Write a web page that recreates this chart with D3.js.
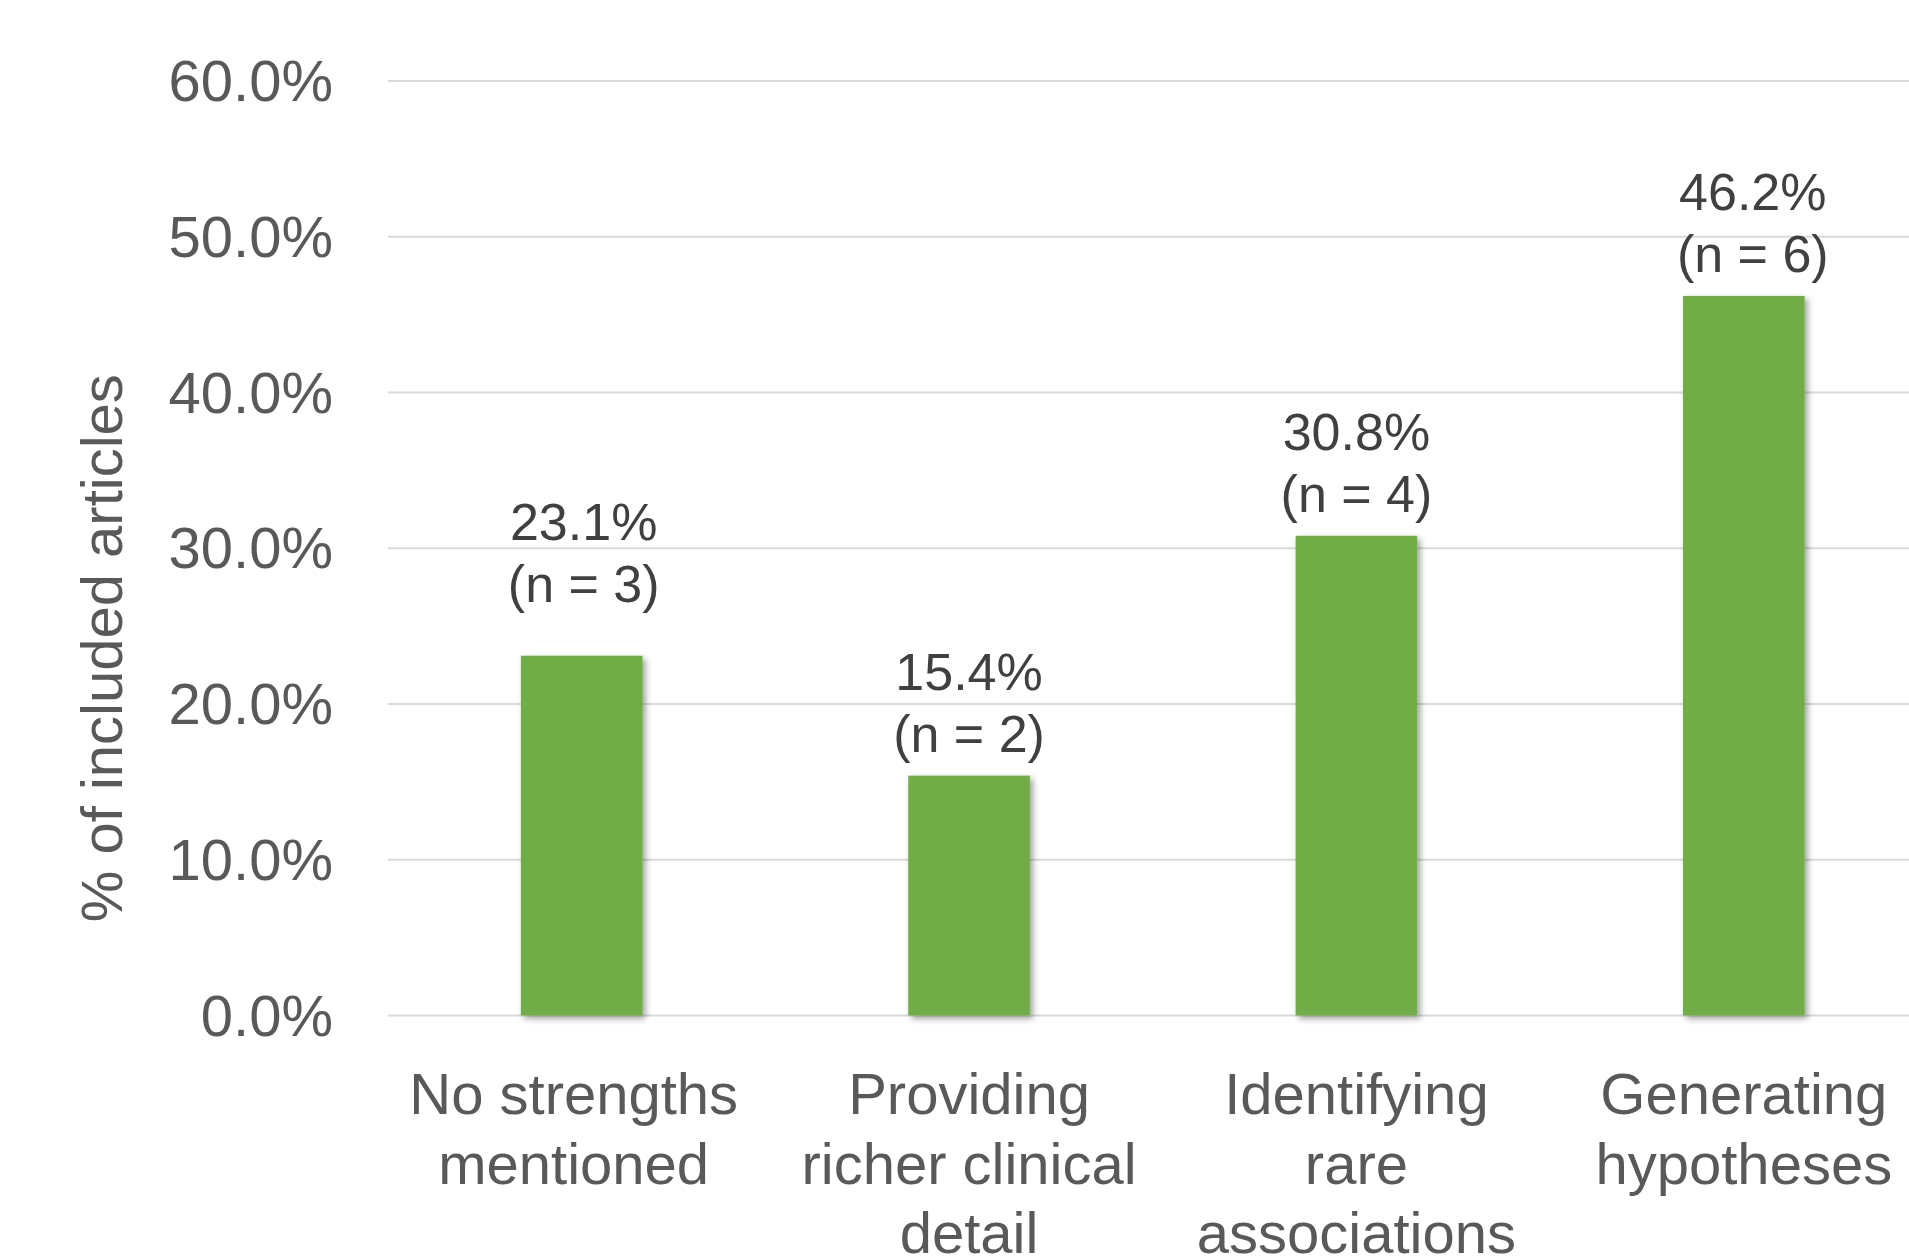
<!DOCTYPE html>
<html>
<head>
<meta charset="utf-8">
<script src="https://cdn.jsdelivr.net/npm/d3@7"></script>
<style>
  html, body { margin: 0; padding: 0; background: #ffffff; }
  svg { display: block; }
  text { font-family: "Liberation Sans", Arial, sans-serif; }
</style>
</head>
<body>
<svg id="chart" width="1909" height="1256"></svg>
<script>
// Reported strengths of the included articles
const categories = [
  "No strengths mentioned",
  "Providing richer clinical detail",
  "Identifying rare associations",
  "Generating hypotheses"
];
const percentValues = [23.1, 15.4, 30.8, 46.2];
const articleCounts = [3, 2, 4, 6];
const yTickValues = [0, 10, 20, 30, 40, 50, 60];
const yAxisTitle = "% of included articles";

const W = 1909, H = 1256;
const plot = { left: 388, right: 1937.5, top: 81, bottom: 1015.5 };

const svg = d3.select("#chart");

// Soft drop shadow under each bar
const defs = svg.append("defs");
const shadow = defs.append("filter")
  .attr("id", "barShadow")
  .attr("x", "-20%").attr("y", "-10%")
  .attr("width", "150%").attr("height", "130%");
shadow.append("feDropShadow")
  .attr("dx", 3).attr("dy", 3)
  .attr("stdDeviation", 3)
  .attr("flood-color", "#000000")
  .attr("flood-opacity", 0.38);

const x = d3.scaleBand()
  .domain(categories)
  .range([plot.left, plot.right])
  .paddingInner(0.686)
  .paddingOuter(0.343);

const y = d3.scaleLinear()
  .domain([0, 60])
  .range([plot.bottom, plot.top]);

// Horizontal gridlines
svg.append("g")
  .selectAll("line")
  .data(yTickValues)
  .join("line")
  .attr("x1", plot.left)
  .attr("x2", W)
  .attr("y1", d => y(d))
  .attr("y2", d => y(d))
  .attr("stroke", "#d9d9d9")
  .attr("stroke-width", 2);

// Value axis labels
const yAxis = d3.axisLeft(y)
  .tickValues(yTickValues)
  .tickSize(0)
  .tickPadding(55)
  .tickFormat(d => d3.format(".1f")(d) + "%");

const yAxisG = svg.append("g")
  .attr("transform", `translate(${plot.left},0)`)
  .call(yAxis);
yAxisG.select(".domain").remove();
yAxisG.selectAll("text")
  .attr("fill", "#595959")
  .attr("font-size", 58)
  .attr("dy", "0.34em");

// Axis title
svg.append("text")
  .attr("transform", `translate(122,${(plot.top + plot.bottom) / 2 + 100}) rotate(-90)`)
  .attr("text-anchor", "middle")
  .attr("fill", "#595959")
  .attr("font-size", 58)
  .text(yAxisTitle);

// Bars
svg.append("g")
  .selectAll("rect")
  .data(categories)
  .join("rect")
  .attr("x", d => x(d))
  .attr("width", x.bandwidth())
  .attr("y", (d, i) => y(percentValues[i]))
  .attr("height", (d, i) => y(0) - y(percentValues[i]))
  .attr("fill", "#70ad47")
  .attr("filter", "url(#barShadow)");

// Data labels: percentage on the first line, count below it
const labelLift = [30, 0, 0, 0];
const labelShift = [2, 0, 0, 9];
const labels = svg.append("g")
  .selectAll("text")
  .data(categories)
  .join("text")
  .attr("text-anchor", "middle")
  .attr("fill", "#404040")
  .attr("font-size", 52)
  .attr("x", (d, i) => x(d) + x.bandwidth() / 2 + labelShift[i])
  .attr("y", (d, i) => y(percentValues[i]) - 24 - labelLift[i] - 62);
labels.append("tspan")
  .text((d, i) => d3.format(".1f")(percentValues[i]) + "%");
labels.append("tspan")
  .attr("x", (d, i) => x(d) + x.bandwidth() / 2 + labelShift[i])
  .attr("dy", 62)
  .text((d, i) => `(n = ${articleCounts[i]})`);

// Category labels, wrapped to fit under each bar
const catG = svg.append("g");
const wrapWidth = 360;
const catShift = [-8, 0, 0, 0];
categories.forEach((cat, ci) => {
  const cx = x(cat) + x.bandwidth() / 2 + catShift[ci];
  const t = catG.append("text")
    .attr("text-anchor", "middle")
    .attr("fill", "#595959")
    .attr("font-size", 58)
    .attr("x", cx)
    .attr("y", 1114);
  const words = cat.split(" ");
  let line = [];
  let tspan = t.append("tspan").attr("x", cx).attr("dy", 0);
  words.forEach(w => {
    line.push(w);
    tspan.text(line.join(" "));
    if (tspan.node().getComputedTextLength() > wrapWidth && line.length > 1) {
      line.pop();
      tspan.text(line.join(" "));
      line = [w];
      tspan = t.append("tspan").attr("x", cx).attr("dy", 69.6).text(w);
    }
  });
});
</script>
</body>
</html>
